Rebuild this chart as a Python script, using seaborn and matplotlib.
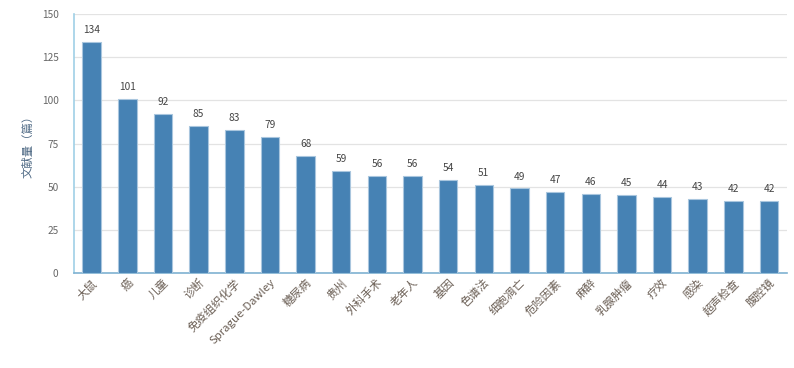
import numpy as np
import pandas as pd
import matplotlib
matplotlib.use("Agg")
import matplotlib.pyplot as plt
import seaborn as sns

# keywords and counts
keywords = ["大鼠", "癌", "儿童", "诊断", "免疫组织化学", "Sprague-Dawley", "糖尿病", "贵州",
            "外科手术", "老年人", "基因", "色谱法", "细胞凋亡", "危险因素", "麻醉", "乳腺肿瘤",
            "疗效", "感染", "超声检查", "腹腔镜"]
counts = [134, 101, 92, 85, 83, 79, 68, 59, 56, 56, 54, 51, 49, 47, 46, 45, 44, 43, 42, 42]
y_ticks = [0, 25, 50, 75, 100, 125, 150]

df = pd.DataFrame({"keyword": keywords, "count": counts})

sns.set_style("white")
plt.rcParams["font.family"] = ["Noto Sans CJK SC", "DejaVu Sans"]
plt.rcParams["axes.unicode_minus"] = False

fig = plt.figure(figsize=(7.94, 3.68), dpi=100)
ax = fig.add_axes([0.093, 0.258, 0.898, 0.704])

sns.barplot(data=df, x="keyword", y="count", color="#4682b4", width=0.52,
            edgecolor="#a9c6de", linewidth=0.8, saturation=1, ax=ax, zorder=3)

for i, v in enumerate(counts):
    ax.text(i, v + 4, str(v), ha="center", va="bottom", fontsize=7.3, color="#444444")

ax.set_ylim(0, 150)
ax.set_xlim(-0.5, len(keywords) - 0.5)
ax.set_yticks(y_ticks)
ax.grid(axis="y", color="#e3e3e3", linewidth=0.9, zorder=0)
ax.set_axisbelow(True)

ax.tick_params(axis="y", length=0, labelsize=7.3, labelcolor="#666666", pad=11)
ax.tick_params(axis="x", which="major", length=0, labelsize=8.2, labelcolor="#6b5f55", pad=3)
ax.set_xticks(np.arange(len(keywords) + 1) - 0.5, minor=True)
ax.tick_params(axis="x", which="minor", length=4, color="#cfd8e0", width=0.8)
plt.setp(ax.get_xticklabels(), rotation=45, ha="right", rotation_mode="anchor")

ax.set_xlabel("")
ax.set_ylabel("文献量（篇）", fontsize=8.2, color="#4f6a85", labelpad=6)

for s in ["top", "right"]:
    ax.spines[s].set_visible(False)
ax.spines["left"].set_color("#9fd0e6")
ax.spines["left"].set_linewidth(1.2)
ax.spines["bottom"].set_color("#7fb2d2")
ax.spines["bottom"].set_linewidth(1.2)

fig.savefig("out.png", dpi=100)
